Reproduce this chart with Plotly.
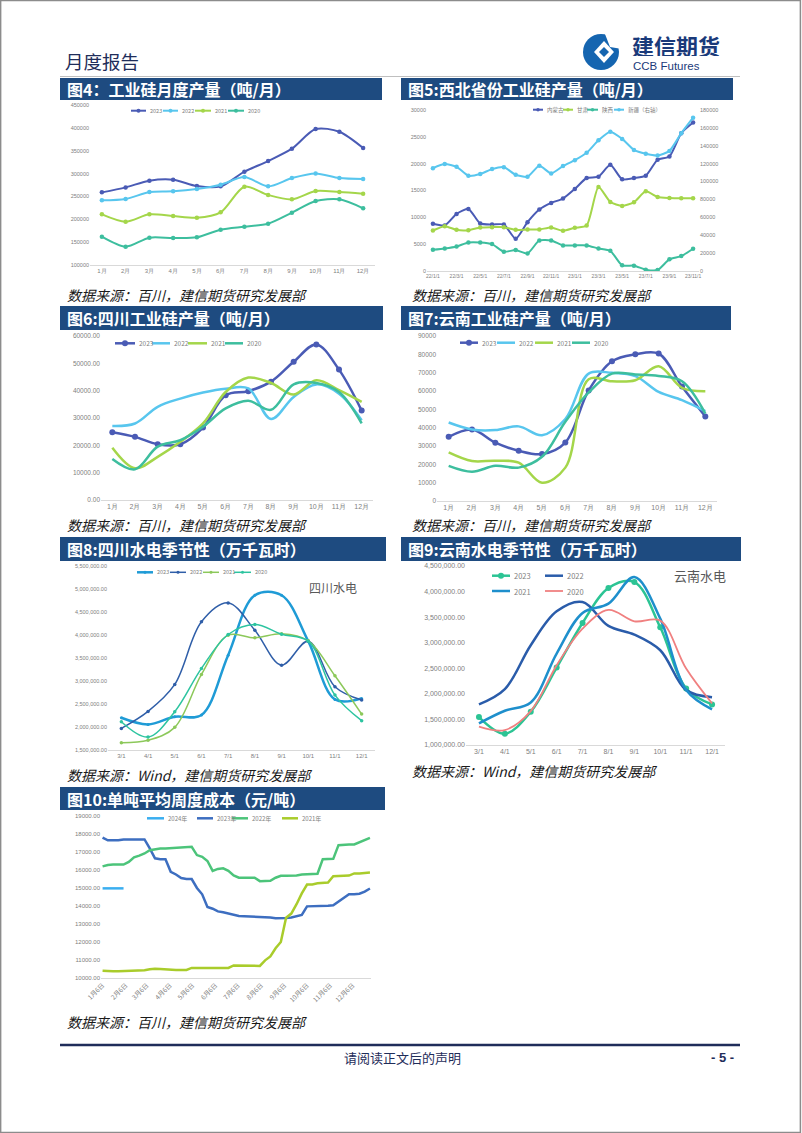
import plotly.graph_objects as go
from datetime import date

# ---------------- DATA ----------------
months = ['1月', '2月', '3月', '4月', '5月', '6月', '7月', '8月', '9月', '10月', '11月', '12月']
years4 = ['2023', '2022', '2021', '2020']

# 图4 工业硅月度产量
c4_2023 = [258900, 269800, 284400, 286600, 272700, 272000, 304100, 327400, 354400, 397400, 391500, 355800]
c4_2022 = [241400, 244300, 259600, 261100, 266200, 275700, 292400, 272000, 290200, 300400, 290200, 288000]
c4_2021 = [210800, 194800, 210800, 207100, 203500, 215200, 271300, 253100, 243600, 261800, 259600, 256000]
c4_2020 = [162000, 140100, 159800, 159000, 160500, 177300, 183800, 190400, 214400, 240000, 243600, 223900]

# 图5 西北省份工业硅产量
c5_months = ['22/1/1', '22/2/1', '22/3/1', '22/4/1', '22/5/1', '22/6/1', '22/7/1', '22/8/1', '22/9/1',
             '22/10/1', '22/11/1', '22/12/1', '23/1/1', '23/2/1', '23/3/1', '23/4/1', '23/5/1', '23/6/1',
             '23/7/1', '23/8/1', '23/9/1', '23/10/1', '23/11/1']
c5_names = ['内蒙古', '甘肃', '陕西', '新疆（右轴）']
c5_neimeng = [8800, 8500, 10640, 11570, 8850, 8660, 8660, 6000, 9100, 11450, 12690, 13490, 15290, 17330,
              17570, 19800, 17080, 17330, 17760, 20730, 21350, 25680, 27660]
c5_gansu = [7550, 8350, 7670, 7610, 8100, 8170, 8170, 7670, 7740, 7740, 8110, 7490, 8050, 8480,
            15650, 12870, 12130, 12810, 14850, 13800, 13610, 13550, 13550]
c5_shaanxi = [3960, 4210, 4580, 5320, 5320, 5010, 3590, 3900, 3280, 5690, 5690, 4770, 4770, 4770,
              4210, 3770, 1050, 990, 250, 190, 2170, 2780, 4150]
c5_xinjiang = [115000, 119500, 116500, 106500, 108400, 113900, 116100, 107600, 105400, 117600, 109100,
               117300, 123900, 132100, 146200, 155800, 147700, 135400, 131000, 129100, 134300, 154000, 171400]

# 图6 四川工业硅产量
c6_2023 = [24800, 23100, 20400, 20400, 26500, 38300, 39800, 43300, 50600, 56900, 47700, 32700]
c6_2022 = [27100, 28000, 34100, 37100, 39300, 40700, 40800, 29600, 37700, 42300, 38900, 29200]
c6_2021 = [19100, 11600, 15800, 21300, 28000, 39500, 44800, 42800, 38600, 43800, 40200, 35900]
c6_2020 = [15000, 11200, 19500, 21900, 26800, 33500, 36300, 33000, 42300, 42800, 39500, 28000]

# 图7 云南工业硅产量
c7_2023 = [35000, 39000, 31800, 27400, 25600, 31900, 60300, 76200, 80000, 80400, 62400, 46100]
c7_2022 = [42800, 39000, 38700, 40700, 35900, 44700, 69500, 69900, 68100, 59500, 55000, 49000]
c7_2021 = [26500, 21800, 22000, 20900, 10000, 18200, 66400, 65300, 65900, 73500, 61700, 59900]
c7_2020 = [19200, 16000, 19200, 18200, 24100, 43200, 59200, 69500, 69000, 68200, 65300, 47700]

# 图8 四川水电季节性 / 图9 云南水电季节性
hydro_months = ['3/1', '4/1', '5/1', '6/1', '7/1', '8/1', '9/1', '10/1', '11/1', '12/1']
c8_2023 = [2202000, 2057000, 2224000, 2260000, 3562000, 4865000, 4865000, 3866000, 2600000, 2622000]
c8_2022 = [1970000, 2339000, 2925000, 4286000, 4698000, 4105000, 3345000, 3866000, 2875000, 2585000]
c8_2021 = [1659000, 1710000, 1992000, 3143000, 3996000, 3939000, 4026000, 3874000, 3114000, 2281000]
c8_2020 = [2115000, 1782000, 2332000, 3273000, 4011000, 4228000, 4018000, 3866000, 2694000, 2137000]

c9_2023 = [1546000, 1221000, 1650000, 2515000, 3386000, 4069000, 4186000, 3302000, 2105000, 1793000]
c9_2022 = [1793000, 2092000, 2951000, 3614000, 3796000, 3328000, 3159000, 2853000, 2073000, 1936000]
c9_2021 = [1423000, 1670000, 1832000, 2788000, 3581000, 3764000, 4284000, 3471000, 2073000, 1696000]
c9_2020 = [1358000, 1293000, 1663000, 2561000, 3276000, 3640000, 3419000, 3432000, 2496000, 1813000]

# 图10 单吨平均周度成本（周度）
c10_names = ['2024年', '2023年', '2022年', '2021年']
c10_ticktext = ['1月6日', '2月6日', '3月6日', '4月6日', '5月6日', '6月6日', '7月6日', '8月6日',
                '9月6日', '10月6日', '11月6日', '12月6日']
c10_2024 = [14980, 14980, 14980, 14980, 14980]
c10_2023 = [17800, 17650, 17650, 17650, 17700, 17700, 17700, 17700, 17700, 17200, 16650, 16600, 16600,
            15900, 15750, 15550, 15500, 15500, 15000, 14650, 13950, 13850, 13700, 13650, 13580, 13500,
            13450, 13430, 13420, 13420, 13400, 13380, 13360, 13320, 13350, 13340, 13360, 13420, 13500,
            13980, 13980, 13980, 14000, 14020, 14040, 14250, 14450, 14650, 14650, 14680, 14800, 14970]
c10_2022 = [16200, 16280, 16300, 16300, 16300, 16450, 16700, 16800, 16920, 17100, 17160, 17200, 17200,
            17220, 17230, 17240, 17240, 17290, 16830, 16730, 16500, 15950, 16060, 16090, 15950, 15700,
            15570, 15570, 15570, 15570, 15380, 15380, 15400, 15570, 15680, 15680, 15680, 15700, 15750,
            15770, 15790, 15790, 16600, 16600, 16620, 17380, 17420, 17420, 17420, 17550, 17650, 17790]
c10_2021 = [10400, 10370, 10370, 10370, 10380, 10390, 10400, 10420, 10430, 10480, 10520, 10500, 10470,
            10460, 10450, 10450, 10450, 10560, 10560, 10560, 10560, 10560, 10560, 10560, 10560, 10700,
            10700, 10690, 10680, 10670, 10670, 10980, 11200, 11650, 12000, 13350, 13580, 14100, 14700,
            15190, 15200, 15260, 15290, 15300, 15650, 15680, 15680, 15690, 15810, 15810, 15820, 15860]

# ---------------- HELPERS ----------------
W, H = 802, 1133
def px(x): return x / W
def py(y): return 1 - y / H

CJK = 'Noto Sans CJK SC'
NUM = 'Liberation Sans, Arial, sans-serif'
GRAY = '#808080'
NAVY = '#1e4b80'

fig = go.Figure()
shapes = []
annos = []

def add_series(x, y, xa, ya, color, width=2, msize=0, smooth=1.0, shape='spline'):
    mode = 'lines+markers' if msize else 'lines'
    kw = dict(x=x, y=y, xaxis=xa, yaxis=ya, mode=mode, showlegend=False,
              line=dict(color=color, width=width, shape=shape), hoverinfo='skip')
    if shape == 'spline':
        kw['line']['smoothing'] = smooth
    if msize:
        kw['marker'] = dict(size=msize, color=color)
    fig.add_trace(go.Scatter(**kw))

def legend_item(x0, x1, y, color, text, fsize, width=2, marker=0):
    shapes.append(dict(type='line', xref='paper', yref='paper', x0=px(x0), x1=px(x1), y0=py(y), y1=py(y),
                       line=dict(color=color, width=width)))
    if marker:
        cx = (x0 + x1) / 2
        r = marker / 2
        shapes.append(dict(type='circle', xref='paper', yref='paper', x0=px(cx - r), x1=px(cx + r),
                           y0=py(y + r), y1=py(y - r), fillcolor=color, line=dict(width=0)))
    annos.append(dict(x=px(x1 + 1.5), y=py(y), xref='paper', yref='paper', text=text, showarrow=False,
                      xanchor='left', yanchor='middle', font=dict(family=CJK, size=fsize, color=GRAY)))

def title_bar(x0, x1, y0, y1, text):
    shapes.append(dict(type='rect', xref='paper', yref='paper', x0=px(x0), x1=px(x1), y0=py(y1), y1=py(y0),
                       fillcolor=NAVY, line=dict(width=0), layer='below'))
    annos.append(dict(x=px(x0 + 5), y=py((y0 + y1) / 2), xref='paper', yref='paper', text=text,
                      showarrow=False, xanchor='left', yanchor='middle',
                      font=dict(family=CJK, size=16, color='white', weight='bold')))

def source(x, y, text):
    annos.append(dict(x=px(x), y=py(y), xref='paper', yref='paper', text=text, showarrow=False,
                      xanchor='left', yanchor='middle',
                      font=dict(family=CJK, size=14, color='#1a1a1a', style='italic')))

def xcat(x0, x1, n, anchor, fsize, **extra):
    d = dict(domain=[px(x0), px(x1)], anchor=anchor, type='category', range=[-0.5, n - 0.5],
             showgrid=False, zeroline=False, showline=True, linecolor='#d9d9d9', linewidth=1, ticks='',
             tickfont=dict(family=NUM, size=fsize, color=GRAY), fixedrange=True, automargin=False)
    d.update(extra)
    return d

def yax(y0, y1, rng, dtick, anchor, fsize, fmt='d', **extra):
    d = dict(domain=[py(y1), py(y0)], anchor=anchor, range=rng, dtick=dtick, tick0=rng[0],
             showgrid=False, zeroline=False, showline=False, ticks='', tickformat=fmt,
             tickfont=dict(family=NUM, size=fsize, color=GRAY), fixedrange=True, automargin=False)
    d.update(extra)
    return d

# ---------------- 图4 ----------------
C4 = ['#4a5bb5', '#58c6ee', '#a4d64a', '#3dbe9e']
for s, c in zip([c4_2023, c4_2022, c4_2021, c4_2020], C4):
    add_series(months, s, 'x', 'y', c, width=2, msize=4.5, smooth=0.8)
xaxis1 = xcat(90, 375, 12, 'y', 6)
yaxis1 = yax(105, 265, [100000, 450000], 50000, 'x', 5.5)
for (x0, x1), c, n in zip([(131, 146), (163, 178), (195, 211), (228, 244)], C4, years4):
    legend_item(x0, x1, 110.7, c, n, 5.5, width=2, marker=4)

# ---------------- 图5 ----------------
C5 = ['#4a5bb5', '#a4d64a', '#3dbe9e', '#58c6ee']
add_series(c5_months, c5_neimeng, 'x2', 'y2', C5[0], width=2, msize=4.5, smooth=0.6)
add_series(c5_months, c5_gansu, 'x2', 'y2', C5[1], width=2, msize=4.5, smooth=0.6)
add_series(c5_months, c5_shaanxi, 'x2', 'y2', C5[2], width=2, msize=4.5, smooth=0.6)
add_series(c5_months, c5_xinjiang, 'x2', 'y8', C5[3], width=2, msize=4.5, smooth=0.6)
xaxis2 = xcat(427, 699, len(c5_months), 'y2', 5,
              tickmode='array', tickvals=c5_months[::2], ticktext=c5_months[::2])
yaxis2 = yax(110, 271, [0, 30000], 5000, 'x2', 5.5)
yaxis8 = yax(110, 271, [0, 180000], 20000, 'x2', 5.5, overlaying='y2', side='right')
for (x0, x1), c, n in zip([(533, 543), (563, 573), (587, 598), (614, 624)], C5, c5_names):
    legend_item(x0, x1, 109.7, c, n, 5.5, width=2, marker=3.5)

# ---------------- 图6 ----------------
C6 = ['#4a5bb5', '#58c6ee', '#a4d64a', '#3dbe9e']
add_series(months, c6_2023, 'x3', 'y3', C6[0], width=2.5, msize=6, smooth=1.0)
add_series(months, c6_2022, 'x3', 'y3', C6[1], width=2.5, smooth=1.0)
add_series(months, c6_2021, 'x3', 'y3', C6[2], width=2.5, smooth=1.0)
add_series(months, c6_2020, 'x3', 'y3', C6[3], width=2.5, smooth=1.0)
xaxis3 = xcat(101, 373, 12, 'y3', 7)
yaxis3 = yax(336, 500, [0, 60000], 10000, 'x3', 6.5, fmt='.2f')
for (x0, x1), c, n, m in zip([(115, 135), (152, 170), (188, 207), (225, 243)], C6, years4, [6, 0, 0, 0]):
    legend_item(x0, x1, 343.3, c, n, 6.5, width=2.5, marker=m)

# ---------------- 图7 ----------------
add_series(months, c7_2023, 'x4', 'y4', C6[0], width=2.5, msize=6, smooth=1.0)
add_series(months, c7_2022, 'x4', 'y4', C6[1], width=2.5, smooth=1.0)
add_series(months, c7_2021, 'x4', 'y4', C6[2], width=2.5, smooth=1.0)
add_series(months, c7_2020, 'x4', 'y4', C6[3], width=2.5, smooth=1.0)
xaxis4 = xcat(437, 717, 12, 'y4', 7)
yaxis4 = yax(336, 501, [0, 90000], 10000, 'x4', 6.5)
for (x0, x1), c, n, m in zip([(460, 478), (497, 515), (535, 553), (572, 590)], C6, years4, [6, 0, 0, 0]):
    legend_item(x0, x1, 342.7, c, n, 6.5, width=2.5, marker=m)

# ---------------- 图8 ----------------
C8 = ['#1f9bd6', '#2f5ea8', '#8cc85a', '#2dc4a0']
add_series(hydro_months, c8_2023, 'x5', 'y5', C8[0], width=2.5, msize=3, smooth=1.0)
add_series(hydro_months, c8_2022, 'x5', 'y5', C8[1], width=1.5, msize=3.5, smooth=1.0)
add_series(hydro_months, c8_2021, 'x5', 'y5', C8[2], width=1.5, msize=3.5, smooth=1.0)
add_series(hydro_months, c8_2020, 'x5', 'y5', C8[3], width=1.5, msize=3.5, smooth=1.0)
xaxis5 = xcat(108, 375, 10, 'y5', 6)
yaxis5 = yax(566, 750, [1500000, 5500000], 500000, 'x5', 5.5, fmt=',.2f')
for (x0, x1), c, n, w in zip([(137, 153), (170, 186), (203, 219), (234, 251)], C8, years4, [2.5, 1.5, 1.5, 1.5]):
    legend_item(x0, x1, 572.3, c, n, 5.5, width=w, marker=3)
annos.append(dict(x=px(333), y=py(587), xref='paper', yref='paper', text='四川水电', showarrow=False,
                  xanchor='center', yanchor='middle', font=dict(family=CJK, size=12, color='#595959')))

# ---------------- 图9 ----------------
C9 = ['#2cc494', '#2a5caa', '#1e8fcc', '#f08080']
add_series(hydro_months, c9_2023, 'x6', 'y6', C9[0], width=2.5, msize=6, smooth=1.0)
add_series(hydro_months, c9_2022, 'x6', 'y6', C9[1], width=2.5, smooth=1.0)
add_series(hydro_months, c9_2021, 'x6', 'y6', C9[2], width=2.5, smooth=1.0)
add_series(hydro_months, c9_2020, 'x6', 'y6', C9[3], width=1.8, smooth=1.0)
xaxis6 = xcat(466, 725, 10, 'y6', 7)
yaxis6 = yax(566, 745, [1000000, 4500000], 500000, 'x6', 7, fmt=',.2f')
legend_item(492, 510, 575.7, C9[0], years4[0], 7.5, width=2.5, marker=6)
legend_item(545, 563, 575.7, C9[1], years4[1], 7.5, width=2.5)
legend_item(492, 510, 591, C9[2], years4[2], 7.5, width=2.5)
legend_item(545, 563, 591, C9[3], years4[3], 7.5, width=1.8)
annos.append(dict(x=px(700), y=py(575), xref='paper', yref='paper', text='云南水电', showarrow=False,
                  xanchor='center', yanchor='middle', font=dict(family=CJK, size=13, color='#595959')))

# ---------------- 图10 ----------------
C10 = ['#3aaef0', '#3d6ec0', '#4cc47a', '#a9cc2b']
base = date(2023, 1, 6)
c10_tickvals = [(date(2023, m, 6) - base).days / 7 for m in range(1, 13)]
for s, c in zip([c10_2024, c10_2023, c10_2022, c10_2021], C10):
    add_series(list(range(len(s))), s, 'x7', 'y7', c, width=2.5, shape='linear')
xaxis7 = dict(domain=[px(101), px(371)], anchor='y7', range=[-0.3, 51.2], showgrid=False, zeroline=False,
              showline=True, linecolor='#d9d9d9', linewidth=1, ticks='', tickmode='array',
              tickvals=c10_tickvals, ticktext=c10_ticktext, tickangle=-45, automargin=False,
              tickfont=dict(family=CJK, size=6.5, color=GRAY), fixedrange=True)
yaxis7 = yax(816, 978, [10000, 19000], 1000, 'x7', 6, fmt='.2f')
for (x0, x1), c, n in zip([(147, 164), (197, 213), (232, 248), (282, 298)], C10, c10_names):
    legend_item(x0, x1, 818.3, c, n, 6, width=2.5)

# ---------------- PAGE DECORATION ----------------
title_bar(60, 382, 78, 100, '图4：工业硅月度产量（吨/月）')
title_bar(401, 733, 78, 100, '图5:西北省份工业硅产量（吨/月）')
title_bar(60, 383, 306, 330, '图6:四川工业硅产量（吨/月）')
title_bar(401, 731, 306, 330, '图7:云南工业硅产量（吨/月）')
title_bar(60, 386, 537, 561, '图8:四川水电季节性（万千瓦时）')
title_bar(401, 741, 537, 561, '图9:云南水电季节性（万千瓦时）')
title_bar(60, 385, 787, 810, '图10:单吨平均周度成本（元/吨）')

source(65, 295, '数据来源：百川，建信期货研究发展部')
source(410, 295, '数据来源：百川，建信期货研究发展部')
source(65, 525, '数据来源：百川，建信期货研究发展部')
source(410, 525, '数据来源：百川，建信期货研究发展部')
source(65, 775, '数据来源：Wind，建信期货研究发展部')
source(410, 771, '数据来源：Wind，建信期货研究发展部')
source(65, 1022, '数据来源：百川，建信期货研究发展部')

# header
annos.append(dict(x=px(63), y=py(61), xref='paper', yref='paper', text='月度报告', showarrow=False,
                  xanchor='left', yanchor='middle', font=dict(family=CJK, size=18.5, color='#1f2d5a')))
shapes.append(dict(type='line', xref='paper', yref='paper', x0=px(60), x1=px(740), y0=py(76.5), y1=py(76.5),
                   line=dict(color='#bfbfbf', width=1)))
# logo
LB = '#1565b0'
shapes.append(dict(type='circle', xref='paper', yref='paper', x0=px(583), x1=px(619), y0=py(70), y1=py(34),
                   fillcolor=LB, line=dict(width=0)))
shapes.append(dict(type='path', xref='paper', yref='paper',
                   path=f'M {px(605)},{py(34)} L {px(622)},{py(34)} L {px(622)},{py(49)} L {px(610)},{py(47)} Z',
                   fillcolor='white', line=dict(width=0)))
shapes.append(dict(type='path', xref='paper', yref='paper',
                   path=f'M {px(604)},{py(41)} L {px(614)},{py(52)} L {px(604)},{py(63)} L {px(594)},{py(52)} Z',
                   fillcolor='white', line=dict(width=0)))
shapes.append(dict(type='path', xref='paper', yref='paper',
                   path=f'M {px(604)},{py(47)} L {px(609)},{py(52)} L {px(604)},{py(57)} L {px(599)},{py(52)} Z',
                   fillcolor=LB, line=dict(width=0)))
annos.append(dict(x=px(630), y=py(45), xref='paper', yref='paper', text='建信期货', showarrow=False,
                  xanchor='left', yanchor='middle', height=22,
                  font=dict(family=CJK, size=22, color='#1a3a7a', weight='bold')))
annos.append(dict(x=px(631), y=py(65.5), xref='paper', yref='paper', text='CCB Futures', showarrow=False,
                  xanchor='left', yanchor='middle', height=11,
                  font=dict(family=NUM, size=11.5, color='#1a3a7a')))

# footer
shapes.append(dict(type='line', xref='paper', yref='paper', x0=px(60), x1=px(740), y0=py(1045), y1=py(1045),
                   line=dict(color='#1f2d5a', width=2.5)))
annos.append(dict(x=px(403), y=py(1057), xref='paper', yref='paper', text='请阅读正文后的声明', showarrow=False,
                  xanchor='center', yanchor='middle', font=dict(family=CJK, size=13, color='#1f2d5a')))
annos.append(dict(x=px(722), y=py(1057), xref='paper', yref='paper', text='- 5 -', showarrow=False,
                  xanchor='center', yanchor='middle',
                  font=dict(family=NUM, size=13, color='#1f2d5a', weight='bold')))
# page frame
shapes.append(dict(type='rect', xref='paper', yref='paper', x0=0.0008, x1=0.998, y0=0.0005, y1=0.9995,
                   line=dict(color='#8c8c8c', width=1.5), fillcolor='rgba(0,0,0,0)'))

fig.update_layout(
    width=W, height=H, margin=dict(l=0, r=0, t=0, b=0, pad=0), autosize=False,
    paper_bgcolor='white', plot_bgcolor='white', showlegend=False,
    xaxis=xaxis1, yaxis=yaxis1, xaxis2=xaxis2, yaxis2=yaxis2, yaxis8=yaxis8,
    xaxis3=xaxis3, yaxis3=yaxis3, xaxis4=xaxis4, yaxis4=yaxis4,
    xaxis5=xaxis5, yaxis5=yaxis5, xaxis6=xaxis6, yaxis6=yaxis6,
    xaxis7=xaxis7, yaxis7=yaxis7,
    shapes=shapes, annotations=annos,
)

fig.write_html('out.html', config={'displayModeBar': False},
               post_script="document.body.style.margin='0';document.body.style.padding='0';"
                           "document.body.style.overflow='hidden';")
